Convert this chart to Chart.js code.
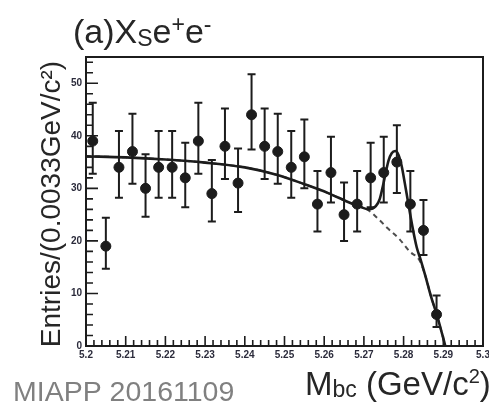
<!DOCTYPE html>
<html>
<head>
<meta charset="utf-8">
<script src="https://cdn.jsdelivr.net/npm/chart.js@4.4.1/dist/chart.umd.min.js"></script>
<style>
  html, body { margin: 0; padding: 0; background: #ffffff; overflow: hidden; }
  #c { display: block; }
</style>
</head>
<body>
<canvas id="c" width="489" height="404"></canvas>
<script>
// ---- data ----
const binCenters = [5.2017, 5.2050, 5.2083, 5.2117, 5.2150, 5.2183, 5.2217, 5.2250, 5.2283,
                    5.2317, 5.2350, 5.2383, 5.2417, 5.2450, 5.2483, 5.2517, 5.2550, 5.2583,
                    5.2617, 5.2650, 5.2683, 5.2717, 5.2750, 5.2783, 5.2817, 5.2850, 5.2883];
const counts     = [39, 19, 34, 37, 30, 34, 34, 32, 39,
                    29, 38, 31, 44, 38, 37, 34, 36, 27,
                    33, 25, 27, 32, 33, 35, 27, 22, 6];
const errHi      = [7.3, 5.4, 6.9, 7.2, 6.5, 6.9, 6.9, 6.7, 7.3,
                    6.4, 7.2, 6.6, 7.7, 7.2, 7.2, 6.9, 7.1, 6.3,
                    6.8, 6.1, 6.3, 6.7, 6.8, 7.0, 6.3, 5.8, 3.6];
const errLo      = [6.2, 4.3, 5.8, 6.1, 5.4, 5.8, 5.8, 5.6, 6.2,
                    5.3, 6.2, 5.5, 6.6, 6.2, 6.1, 5.8, 6.0, 5.2,
                    5.7, 5.0, 5.2, 5.6, 5.7, 5.9, 5.2, 4.7, 2.4];

// background (dashed) curve
const bgX = [5.200, 5.210, 5.220, 5.230, 5.240, 5.248, 5.255, 5.261, 5.266, 5.2710,
             5.2740, 5.2760, 5.2790, 5.2815, 5.2840, 5.2855, 5.2868, 5.2885, 5.2897, 5.2905];
const bgY = [36.1, 35.9, 35.5, 34.9, 34.0, 32.6, 30.8, 29.1, 27.4, 25.9,
             23.9, 22.4, 20.3, 18.0, 16.3, 13.3, 9.7, 5.6, 2.3, 0];

// total fit (solid) curve
const fitX = [5.200, 5.210, 5.220, 5.230, 5.240, 5.248, 5.255, 5.261, 5.266, 5.2690,
              5.2712, 5.2730, 5.2740, 5.2748, 5.2755, 5.2762, 5.2770, 5.2779, 5.2787, 5.2795,
              5.2803, 5.2811, 5.2822, 5.2833, 5.2843, 5.2855, 5.2868, 5.2885, 5.2897, 5.2905];
const fitY = [36.1, 35.9, 35.5, 34.9, 34.0, 32.6, 30.8, 29.1, 27.4, 26.5,
              26.0, 26.6, 28.0, 30.5, 33.0, 35.3, 36.7, 37.1, 36.4, 34.3,
              31.0, 27.5, 22.8, 18.8, 16.4, 13.3, 9.7, 5.6, 2.3, 0];

const xTickLabels = ['5.2', '5.21', '5.22', '5.23', '5.24', '5.25', '5.26', '5.27', '5.28', '5.29', '5.3'];
const yTickLabels = ['0', '10', '20', '30', '40', '50'];

// ---- drawing helpers ----
const INK = '#1c1c1c';
const FONT = '"Liberation Sans", Arial, Helvetica, sans-serif';

const errorBarPlugin = {
  id: 'errorBars',
  beforeDatasetDraw(chart, args) {
    if (args.index !== 2) return;
    const { ctx, scales: { x, y } } = chart;
    ctx.save();
    ctx.strokeStyle = INK;
    ctx.lineWidth = 2;
    for (let i = 0; i < binCenters.length; i++) {
      const px = x.getPixelForValue(binCenters[i]);
      const yt = y.getPixelForValue(counts[i] + errHi[i]);
      const yb = y.getPixelForValue(counts[i] - errLo[i]);
      ctx.beginPath();
      ctx.moveTo(px, yt); ctx.lineTo(px, yb);
      ctx.moveTo(px - 4, yt); ctx.lineTo(px + 4, yt);
      ctx.moveTo(px - 4, yb); ctx.lineTo(px + 4, yb);
      ctx.stroke();
    }
    ctx.restore();
  }
};

function drawRich(ctx, parts, x, baseline) {
  let cx = x;
  for (const [t, size, dy] of parts) {
    ctx.font = size + 'px ' + FONT;
    ctx.fillText(t, cx, baseline + dy);
    cx += ctx.measureText(t).width;
  }
}

const framePlugin = {
  id: 'frame',
  afterDraw(chart) {
    const { ctx, chartArea: a, scales: { x, y } } = chart;
    ctx.save();
    ctx.strokeStyle = INK;
    ctx.lineWidth = 1.6;
    ctx.beginPath();
    for (let k = 0; k <= 50; k++) {
      const v = 5.2 + k * 0.002;
      const px = x.getPixelForValue(v);
      const len = (k % 5 === 0) ? 10 : 6;
      ctx.moveTo(px, a.bottom); ctx.lineTo(px, a.bottom - len);
    }
    for (let k = 0; k <= 27; k++) {
      const v = k * 2;
      const py = y.getPixelForValue(v);
      const len = (k % 5 === 0) ? 12 : 7;
      ctx.moveTo(a.left, py); ctx.lineTo(a.left + len, py);
    }
    ctx.stroke();
    ctx.lineWidth = 2;
    ctx.strokeRect(a.left, a.top, a.right - a.left, a.bottom - a.top);

    ctx.fillStyle = '#262626';
    ctx.textAlign = 'left';
    ctx.textBaseline = 'alphabetic';
    drawRich(ctx, [['(a)X', 34, 0], ['S', 23, 3], ['e', 34, 0], ['+', 23, -11], ['e', 34, 0], ['-', 23, -11]], 73, 43);

    drawRich(ctx, [['M', 33, 0], ['bc', 23, 2], [' (GeV/c', 33, 0], ['2', 20, -12], [')', 33, 0]], 305, 395);

    ctx.save();
    ctx.translate(60, 204);
    ctx.rotate(-Math.PI / 2);
    ctx.textAlign = 'center';
    ctx.font = '28px ' + FONT;
    ctx.fillText('Entries/(0.0033GeV/c\u00B2)', 0, 0);
    ctx.restore();

    ctx.fillStyle = '#808080';
    ctx.font = '28.5px ' + FONT;
    ctx.fillText('MIAPP 20161109', 13, 401);
    ctx.restore();
  }
};

new Chart(document.getElementById('c'), {
  type: 'scatter',
  data: {
    datasets: [
      {
        type: 'line', label: 'background',
        data: bgX.map((v, i) => ({ x: v, y: bgY[i] })),
        borderColor: '#4d4d4d', borderWidth: 2, borderDash: [5, 4],
        pointRadius: 0, fill: false, cubicInterpolationMode: 'monotone', order: 3
      },
      {
        type: 'line', label: 'fit',
        data: fitX.map((v, i) => ({ x: v, y: fitY[i] })),
        borderColor: INK, borderWidth: 2.6,
        pointRadius: 0, fill: false, cubicInterpolationMode: 'monotone', order: 2
      },
      {
        type: 'scatter', label: 'data',
        data: binCenters.map((v, i) => ({ x: v, y: counts[i] })),
        pointRadius: 5, pointBackgroundColor: INK, pointBorderColor: INK, order: 1
      }
    ]
  },
  options: {
    responsive: false,
    animation: false,
    layout: { padding: { left: 0, top: 57, right: 6, bottom: 0 } },
    plugins: { legend: { display: false }, tooltip: { enabled: false }, title: { display: false } },
    scales: {
      x: {
        type: 'linear', min: 5.2, max: 5.3,
        afterFit(s) { s.height = 58; s.paddingLeft = 0; s.paddingRight = 0; },
        grid: { display: false, drawTicks: false },
        border: { display: false },
        ticks: {
          stepSize: 0.01, padding: 3, maxRotation: 0, autoSkip: false,
          color: '#2b2b3b', font: { size: 10, weight: 'bold', family: FONT },
          callback(v) {
            const k = Math.round((v - 5.2) / 0.01);
            return (Math.abs(v - (5.2 + k * 0.01)) < 1e-6) ? xTickLabels[k] : '';
          }
        }
      },
      y: {
        min: 0, max: 55,
        afterFit(s) { s.width = 86; s.paddingTop = 0; s.paddingBottom = 0; },
        grid: { display: false, drawTicks: false },
        border: { display: false },
        ticks: {
          stepSize: 10, padding: 4,
          color: '#2b2b3b', font: { size: 10, weight: 'bold', family: FONT },
          callback(v) {
            const k = Math.round(v / 10);
            return (Math.abs(v - k * 10) < 1e-6 && k < yTickLabels.length) ? yTickLabels[k] : '';
          }
        }
      }
    }
  },
  plugins: [errorBarPlugin, framePlugin]
});
</script>
</body>
</html>
